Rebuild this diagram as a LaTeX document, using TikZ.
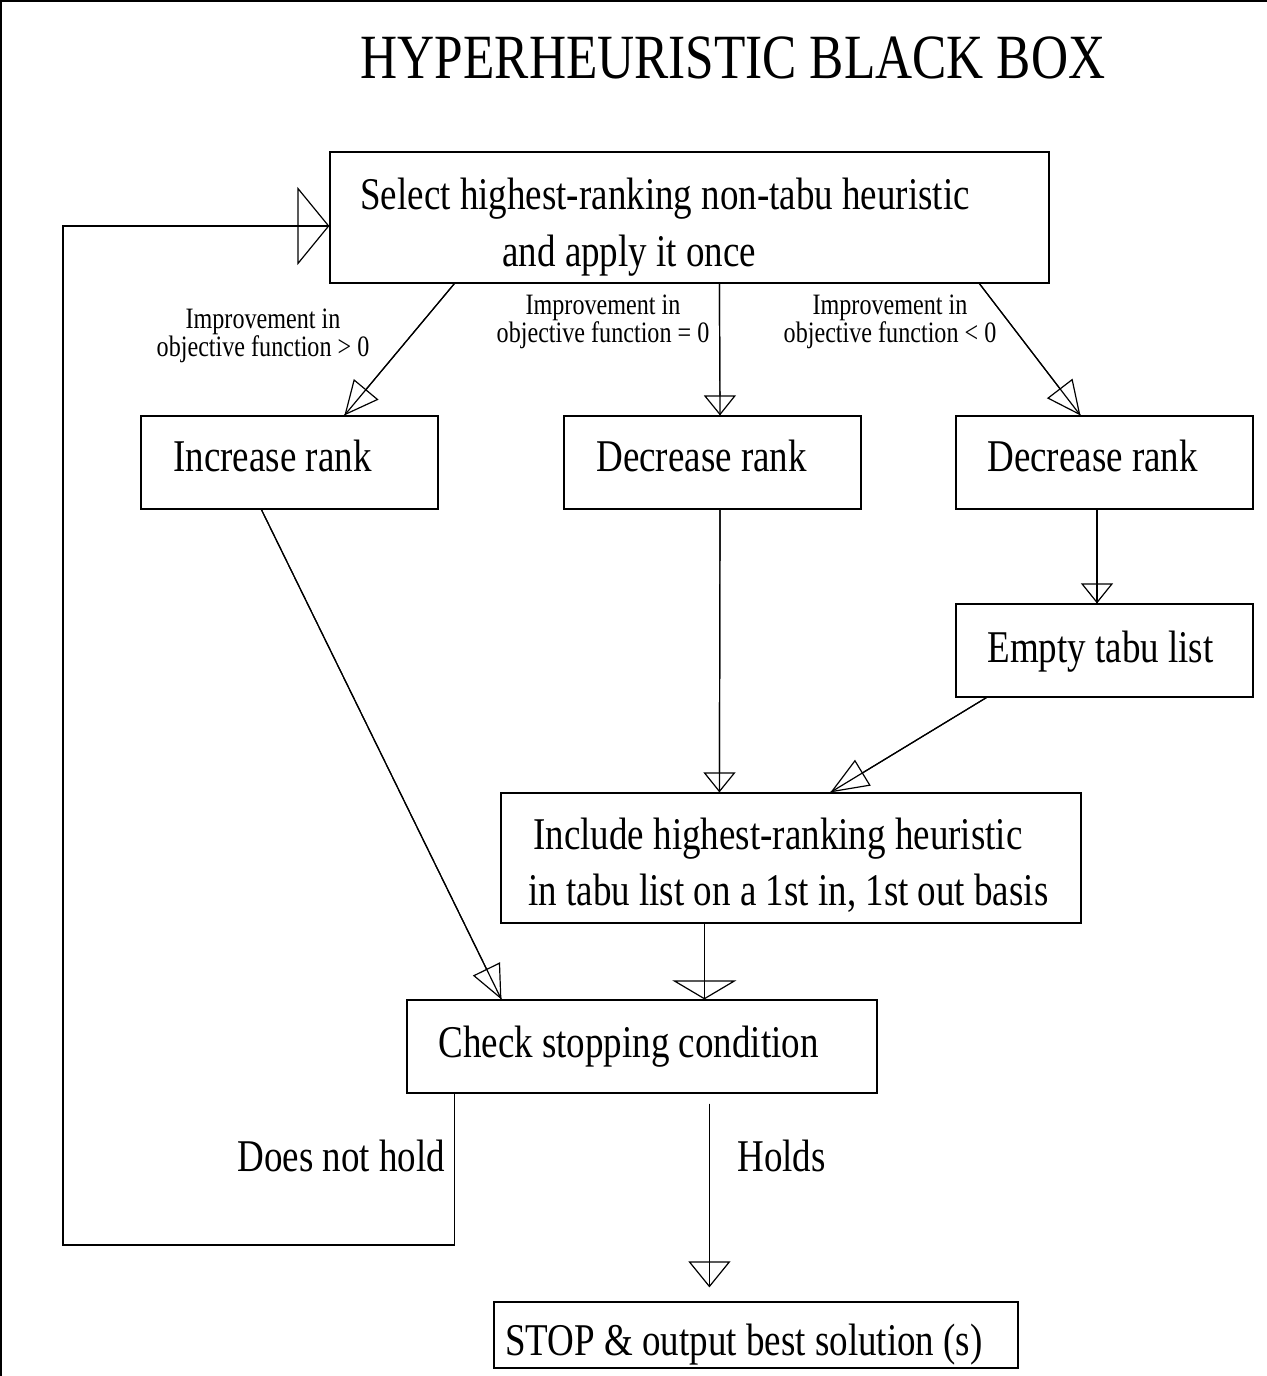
\documentclass[tikz,border=0pt]{standalone}
\usepackage{fontspec}
\setmainfont{Liberation Serif}[FakeStretch=0.815]
\usetikzlibrary{arrows.meta}
\newcommand{\bodyfont}{\fontsize{22.7}{28.5}\selectfont}
\newcommand{\titlefont}{\fontsize{31.5}{36}\selectfont}
\newcommand{\smallfont}{\fontsize{14.8}{14}\selectfont}
\tikzset{
  box/.style={draw, line width=0.6pt, inner sep=0pt},
  txt/.style={inner sep=0pt, anchor=base west, font=\bodyfont},
  lbl/.style={inner sep=0pt, align=center, font=\smallfont},
  conn/.style={line width=0.6pt},
  tip/.style 2 args={postaction={draw, line width=0.6pt, -{Triangle[open, length=#1, width=#2]}}},
}
\begin{document}
\begin{tikzpicture}[x=0.5pt, y=-0.5pt]
\useasboundingbox (0,0) rectangle (1267,1376);
\draw[line width=1pt] (1,1376) -- (1,1) -- (1267,1);

% title
\node[inner sep=0pt, anchor=base, font=\titlefont] (title) at (733,78) {HYPERHEURISTIC BLACK BOX};

% boxes
\node[box, minimum width=359.5pt, minimum height=65.5pt] (sel) at (689.5,217.5) {};
\node[box, minimum width=148.5pt, minimum height=46.5pt] (inc) at (289.5,462.5) {};
\node[box, minimum width=148.5pt, minimum height=46.5pt] (decm) at (712.5,462.5) {};
\node[box, minimum width=148.5pt, minimum height=46.5pt] (decr) at (1104.5,462.5) {};
\node[box, minimum width=148.5pt, minimum height=46.5pt] (empty) at (1104.5,650.5) {};
\node[box, minimum width=290pt, minimum height=65pt] (incl) at (791,858) {};
\node[box, minimum width=235pt, minimum height=46.5pt] (chk) at (642,1046.5) {};
\node[box, minimum width=262pt, minimum height=33pt] (stop) at (756,1335) {};

% box texts
\node[txt] (sel1) at (360,209) {Select highest-ranking non-tabu heuristic};
\node[txt] (sel2) at (502,266) {and apply it once};
\node[txt] (inct) at (173,471) {Increase rank};
\node[txt] (decmt) at (596,471) {Decrease rank};
\node[txt] (decrt) at (987,471) {Decrease rank};
\node[txt] (emptyt) at (987,662) {Empty tabu list};
\node[txt] (incl1) at (533,849) {Include highest-ranking heuristic};
\node[txt] (incl2) at (528,905) {in tabu list on a 1st in, 1st out basis};
\node[txt] (chkt) at (438,1057) {Check stopping condition};
\node[txt] (stopt) at (505,1355) {STOP \& output best solution (s)};
\node[txt] (dnh) at (237,1171) {Does not hold};
\node[txt] (holds) at (737,1171) {Holds};

% small labels
\node[lbl] (l1) at (263,336) {Improvement in\\objective function > 0};
\node[lbl] (l2) at (603,322) {Improvement in\\objective function = 0};
\node[lbl] (l3) at (890,322) {Improvement in\\objective function < 0};

% connectors
\draw[conn, tip={17pt}{16pt}] ([xshift=62.5pt]sel.south west) -- ([xshift=102pt]inc.north west);
\draw[conn, tip={10pt}{16pt}] ([xshift=195pt]sel.south west) -- ([xshift=3.75pt]decm.north);
\draw[conn, tip={17pt}{16pt}] ([xshift=325pt]sel.south west) -- ([xshift=62.5pt]decr.north west);
\draw[conn, tip={17pt}{15pt}] ([xshift=60.5pt]inc.south west) -- ([xshift=47.5pt]chk.north west);
\draw[conn, tip={10pt}{16pt}] ([xshift=3.75pt]decm.south) -- ([xshift=109.5pt]incl.north west);
\draw[conn, tip={10pt}{16pt}] ([xshift=-3.75pt]decr.south) -- ([xshift=-3.75pt]empty.north);
\draw[conn, tip={19pt}{15pt}] ([xshift=15.5pt]empty.south west) -- ([xshift=165pt]incl.north west);
\draw[conn, tip={9.5pt}{32pt}] ([xshift=102pt]incl.south west) -- ([xshift=149pt]chk.north west);
\draw[conn, tip={13pt}{21pt}] ([xshift=151.5pt,yshift=-5pt]chk.south west) -- ([xshift=108pt,yshift=7pt]stop.north west);
\coordinate (loop) at (63,1245);
\draw[conn, tip={16pt}{39pt}] ([xshift=24pt]chk.south west) |- (loop) |- ([yshift=-4.25pt]sel.west);
\end{tikzpicture}
\end{document}
